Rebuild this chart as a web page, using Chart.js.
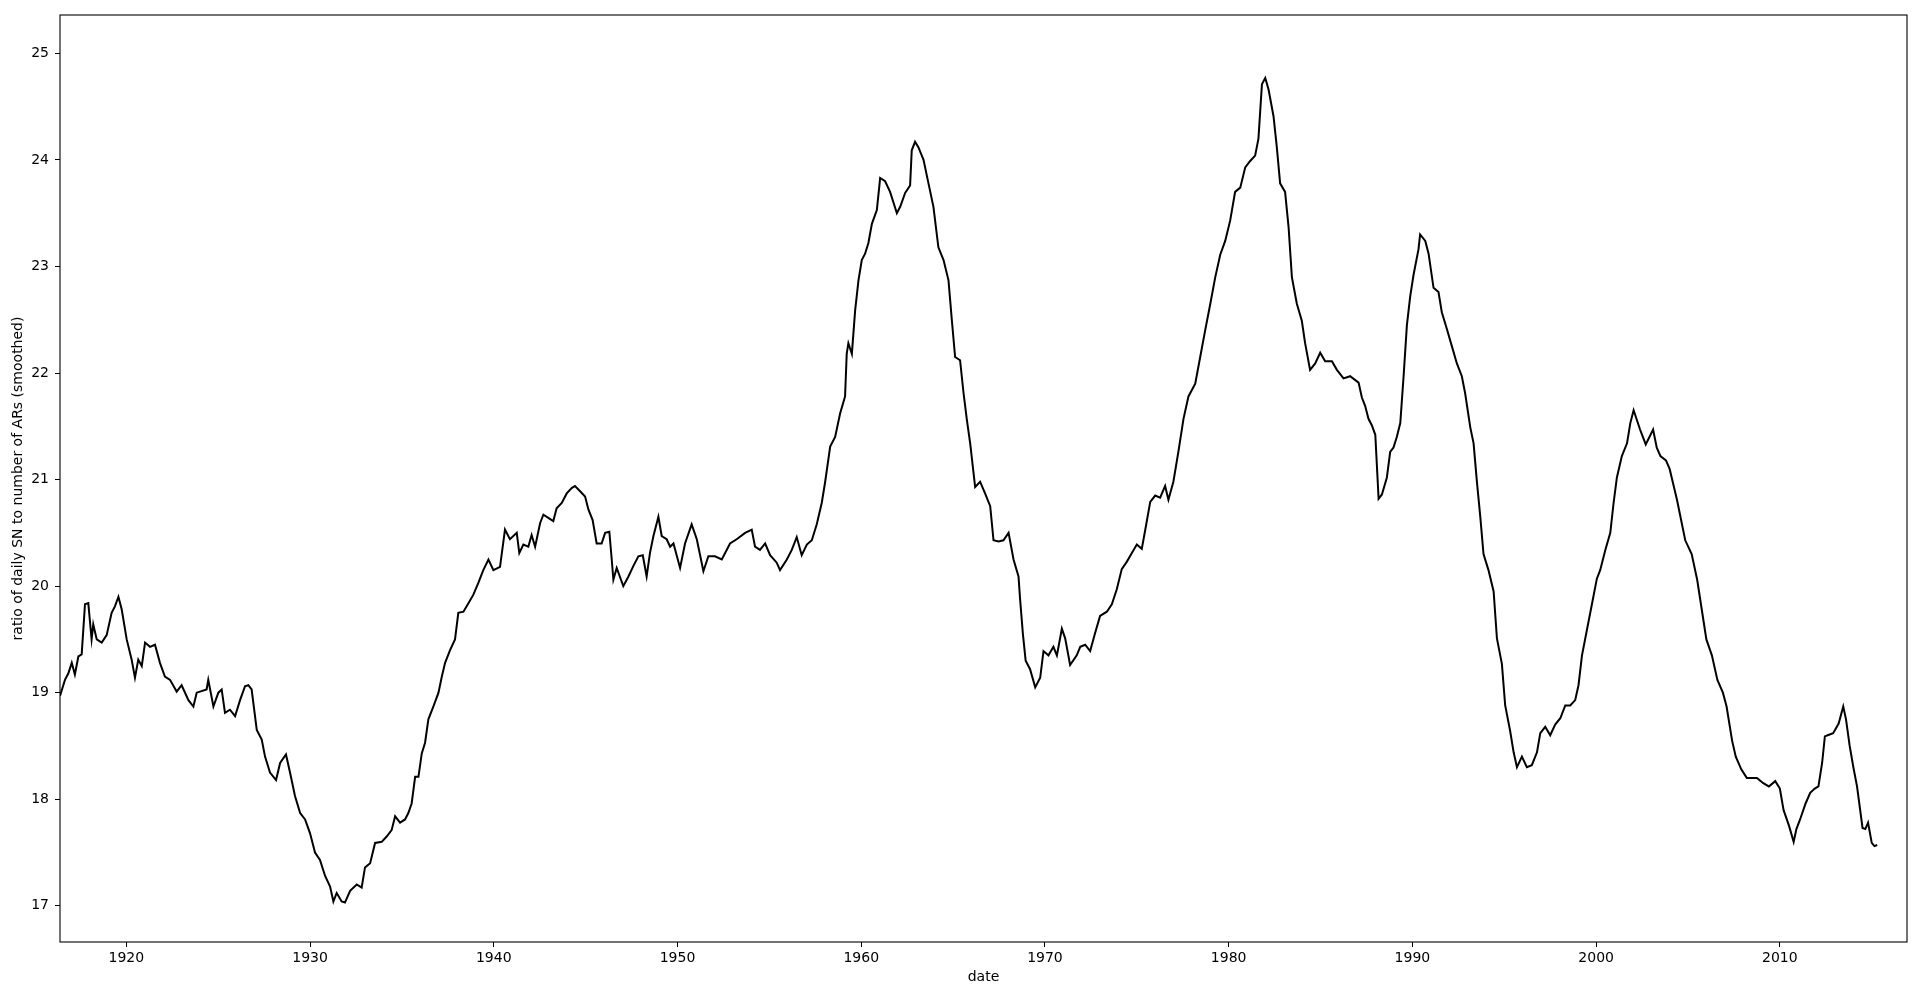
<!DOCTYPE html>
<html>
<head>
<meta charset="utf-8">
<script src="https://cdn.jsdelivr.net/npm/chart.js@4/dist/chart.umd.min.js"></script>
<style>
  body { margin: 0; background: #fff; }
  canvas { display: block; }
</style>
</head>
<body>
<canvas id="ratioChart" width="1920" height="1000"></canvas>
<script>
// date (decimal year) of each sample
let dates = [
  1916.39,1916.66,1916.84,1917.03,1917.20,1917.39,1917.57,1917.75,1917.93,1918.11,
  1918.20,1918.39,1918.66,1918.93,1919.20,1919.38,1919.57,1919.75,1920.02,1920.29,
  1920.47,1920.65,1920.84,1921.02,1921.29,1921.56,1921.83,1922.10,1922.38,1922.74,
  1923.01,1923.38,1923.65,1923.83,1924.37,1924.46,1924.74,1925.01,1925.19,1925.37,
  1925.64,1925.92,1926.19,1926.46,1926.64,1926.82,1927.10,1927.37,1927.55,1927.82,
  1928.15,1928.37,1928.69,1928.91,1929.18,1929.46,1929.73,1930.00,1930.27,1930.54,
  1930.82,1931.09,1931.27,1931.45,1931.72,1931.90,1932.18,1932.54,1932.81,1932.99,
  1933.27,1933.54,1933.90,1934.17,1934.44,1934.63,1934.90,1935.17,1935.35,1935.53,
  1935.72,1935.90,1936.08,1936.26,1936.44,1936.71,1936.99,1937.17,1937.35,1937.62,
  1937.89,1938.07,1938.35,1938.62,1938.89,1939.16,1939.43,1939.71,1939.98,1940.34,
  1940.61,1940.88,1941.25,1941.39,1941.61,1941.88,1942.06,1942.25,1942.52,1942.70,
  1942.97,1943.24,1943.42,1943.70,1943.97,1944.24,1944.42,1944.70,1944.97,1945.15,
  1945.38,1945.60,1945.87,1946.06,1946.29,1946.42,1946.51,1946.69,1947.05,1947.33,
  1947.60,1947.87,1948.11,1948.32,1948.50,1948.69,1948.96,1949.14,1949.41,1949.60,
  1949.78,1950.14,1950.41,1950.77,1951.05,1951.41,1951.68,1952.04,1952.41,1952.86,
  1953.22,1953.68,1954.04,1954.22,1954.49,1954.77,1955.04,1955.40,1955.58,1955.95,
  1956.22,1956.49,1956.76,1957.04,1957.31,1957.58,1957.85,1958.03,1958.31,1958.58,
  1958.85,1959.12,1959.21,1959.30,1959.49,1959.67,1959.85,1960.03,1960.21,1960.39,
  1960.58,1960.85,1961.03,1961.30,1961.57,1961.94,1962.12,1962.39,1962.66,1962.75,
  1962.93,1963.11,1963.39,1963.66,1963.93,1964.20,1964.48,1964.75,1964.93,1965.11,
  1965.38,1965.57,1965.75,1965.93,1966.20,1966.47,1966.74,1967.02,1967.20,1967.47,
  1967.74,1968.02,1968.29,1968.56,1968.65,1968.80,1968.95,1969.19,1969.47,1969.74,
  1969.92,1970.19,1970.46,1970.65,1970.92,1971.10,1971.37,1971.73,1971.92,1972.19,
  1972.46,1972.73,1973.00,1973.37,1973.64,1973.91,1974.18,1974.46,1974.73,1975.00,
  1975.27,1975.45,1975.73,1976.00,1976.27,1976.54,1976.72,1976.99,1977.27,1977.54,
  1977.81,1978.18,1978.45,1978.72,1979.00,1979.27,1979.54,1979.81,1980.08,1980.35,
  1980.63,1980.90,1981.17,1981.44,1981.62,1981.81,1981.99,1982.17,1982.44,1982.62,
  1982.80,1983.07,1983.26,1983.44,1983.71,1983.98,1984.16,1984.43,1984.71,1984.98,
  1985.25,1985.62,1985.89,1986.25,1986.61,1987.07,1987.25,1987.43,1987.61,1987.79,
  1987.98,1988.16,1988.34,1988.61,1988.79,1988.97,1989.15,1989.34,1989.52,1989.70,
  1989.88,1990.06,1990.33,1990.42,1990.70,1990.88,1991.15,1991.42,1991.60,1991.88,
  1992.15,1992.42,1992.69,1992.87,1993.15,1993.33,1993.51,1993.69,1993.87,1994.14,
  1994.42,1994.60,1994.87,1995.05,1995.32,1995.51,1995.69,1995.96,1996.23,1996.50,
  1996.78,1996.96,1997.23,1997.50,1997.77,1998.05,1998.32,1998.59,1998.86,1999.04,
  1999.23,1999.50,1999.77,2000.04,2000.22,2000.50,2000.77,2000.95,2001.13,2001.40,
  2001.68,2001.86,2002.04,2002.39,2002.70,2003.10,2003.30,2003.50,2003.80,2004.00,
  2004.40,2004.85,2005.20,2005.50,2006.00,2006.30,2006.60,2006.90,2007.10,2007.40,
  2007.60,2007.90,2008.20,2008.75,2009.10,2009.40,2009.75,2010.00,2010.20,2010.50,
  2010.75,2010.90,2011.10,2011.40,2011.65,2011.90,2012.10,2012.30,2012.45,2012.60,
  2012.90,2013.20,2013.45,2013.60,2013.80,2014.00,2014.20,2014.50,2014.65,2014.80,
  2015.00,2015.15,2015.30
];

// ratio of daily SN to number of ARs (smoothed), same order as dates
let ratio = [
  18.97,19.12,19.18,19.28,19.17,19.34,19.36,19.83,19.84,19.50,
  19.64,19.50,19.47,19.54,19.75,19.81,19.90,19.78,19.50,19.31,
  19.14,19.31,19.25,19.47,19.43,19.45,19.28,19.15,19.12,19.01,
  19.07,18.93,18.87,19.00,19.03,19.12,18.87,19.00,19.03,18.81,
  18.84,18.78,18.93,19.06,19.07,19.03,18.65,18.56,18.40,18.25,
  18.18,18.34,18.42,18.25,18.03,17.87,17.81,17.68,17.50,17.43,
  17.28,17.18,17.04,17.12,17.04,17.03,17.14,17.20,17.17,17.36,
  17.40,17.59,17.60,17.65,17.71,17.84,17.78,17.81,17.87,17.96,
  18.21,18.21,18.43,18.53,18.75,18.87,19.00,19.15,19.28,19.40,
  19.50,19.75,19.76,19.84,19.92,20.03,20.15,20.25,20.15,20.18,
  20.53,20.44,20.50,20.31,20.39,20.37,20.48,20.37,20.59,20.67,
  20.64,20.61,20.73,20.78,20.87,20.92,20.94,20.89,20.84,20.72,
  20.62,20.40,20.40,20.50,20.51,20.25,20.06,20.17,20.00,20.09,
  20.19,20.28,20.29,20.09,20.31,20.47,20.65,20.47,20.44,20.37,
  20.40,20.17,20.40,20.58,20.44,20.14,20.28,20.28,20.25,20.40,
  20.44,20.50,20.53,20.37,20.34,20.40,20.29,20.22,20.15,20.25,
  20.34,20.46,20.29,20.39,20.43,20.58,20.78,20.97,21.31,21.40,
  21.62,21.78,22.18,22.28,22.18,22.59,22.87,23.06,23.12,23.22,
  23.40,23.53,23.83,23.80,23.70,23.50,23.56,23.69,23.76,24.09,
  24.17,24.12,24.00,23.78,23.56,23.18,23.06,22.87,22.50,22.15,
  22.12,21.81,21.56,21.34,20.93,20.98,20.87,20.75,20.43,20.42,
  20.43,20.50,20.25,20.09,19.87,19.55,19.30,19.22,19.05,19.14,
  19.39,19.35,19.43,19.35,19.60,19.51,19.26,19.35,19.43,19.45,
  19.39,19.56,19.72,19.76,19.83,19.97,20.16,20.23,20.31,20.39,
  20.35,20.52,20.79,20.85,20.83,20.94,20.81,20.98,21.27,21.57,
  21.78,21.90,22.15,22.40,22.65,22.90,23.11,23.24,23.43,23.70,
  23.74,23.93,23.99,24.04,24.20,24.71,24.77,24.66,24.41,24.12,
  23.78,23.70,23.37,22.90,22.65,22.49,22.28,22.03,22.09,22.19,
  22.11,22.11,22.03,21.95,21.97,21.91,21.77,21.69,21.57,21.51,
  21.42,20.82,20.86,21.02,21.26,21.30,21.40,21.53,21.97,22.45,
  22.72,22.92,23.16,23.30,23.24,23.12,22.80,22.76,22.57,22.41,
  22.25,22.09,21.97,21.81,21.49,21.34,20.98,20.66,20.30,20.15,
  19.95,19.51,19.27,18.88,18.64,18.44,18.30,18.40,18.30,18.32,
  18.44,18.62,18.68,18.60,18.70,18.76,18.88,18.88,18.93,19.07,
  19.35,19.59,19.83,20.07,20.15,20.34,20.50,20.78,21.02,21.22,
  21.34,21.53,21.65,21.47,21.33,21.47,21.30,21.22,21.18,21.10,
  20.81,20.43,20.30,20.06,19.50,19.35,19.12,19.00,18.87,18.55,
  18.40,18.28,18.20,18.20,18.15,18.12,18.17,18.10,17.90,17.75,
  17.60,17.72,17.81,17.96,18.06,18.10,18.12,18.34,18.59,18.60,
  18.62,18.71,18.87,18.75,18.50,18.30,18.12,17.73,17.72,17.78,
  17.59,17.56,17.57
];

// axis limits
let xRange = [1916.39, 2016.92];
let yRange = [16.66, 25.36];

let points = dates.map((d, i) => ({x: d, y: ratio[i]}));

Chart.defaults.font.family = "'DejaVu Sans', sans-serif";
Chart.defaults.font.size = 14;
Chart.defaults.color = '#000';

// black box around the plot area (matplotlib spines)
let frame = {
  id: 'frame',
  afterDraw(chart) {
    let a = chart.chartArea;
    let c = chart.ctx;
    c.save();
    c.strokeStyle = '#000';
    c.lineWidth = 1.1;
    c.strokeRect(a.left, a.top, a.right - a.left, a.bottom - a.top);
    c.restore();
  }
};

let ctx = document.getElementById('ratioChart').getContext('2d');
new Chart(ctx, {
  type: 'line',
  data: {
    datasets: [{
      data: points,
      borderColor: '#000',
      borderWidth: 2,
      pointRadius: 0,
      tension: 0,
      fill: false
    }]
  },
  options: {
    responsive: false,
    animation: false,
    events: [],
    layout: { padding: { left: 0, top: 15, right: 13, bottom: 0 } },
    plugins: { legend: { display: false }, tooltip: { enabled: false } },
    scales: {
      x: {
        type: 'linear',
        min: xRange[0],
        max: xRange[1],
        afterFit: s => { s.height = 58; },
        border: { display: false },
        grid: { drawOnChartArea: false, drawTicks: true, tickLength: 5, color: '#000', lineWidth: 1 },
        ticks: { stepSize: 10, includeBounds: false, autoSkip: false, maxRotation: 0, padding: 3,
                 callback: v => String(v) },
        title: { display: true, text: 'date', padding: { top: 0, bottom: 14 } }
      },
      y: {
        min: yRange[0],
        max: yRange[1],
        afterFit: s => { s.width = 60; },
        border: { display: false },
        grid: { drawOnChartArea: false, drawTicks: true, tickLength: 5, color: '#000', lineWidth: 1 },
        ticks: { stepSize: 1, includeBounds: false, autoSkip: false, padding: 6 },
        title: { display: true, text: 'ratio of daily SN to number of ARs (smoothed)', padding: { top: 10, bottom: 0 } }
      }
    }
  },
  plugins: [frame]
});
</script>
</body>
</html>
